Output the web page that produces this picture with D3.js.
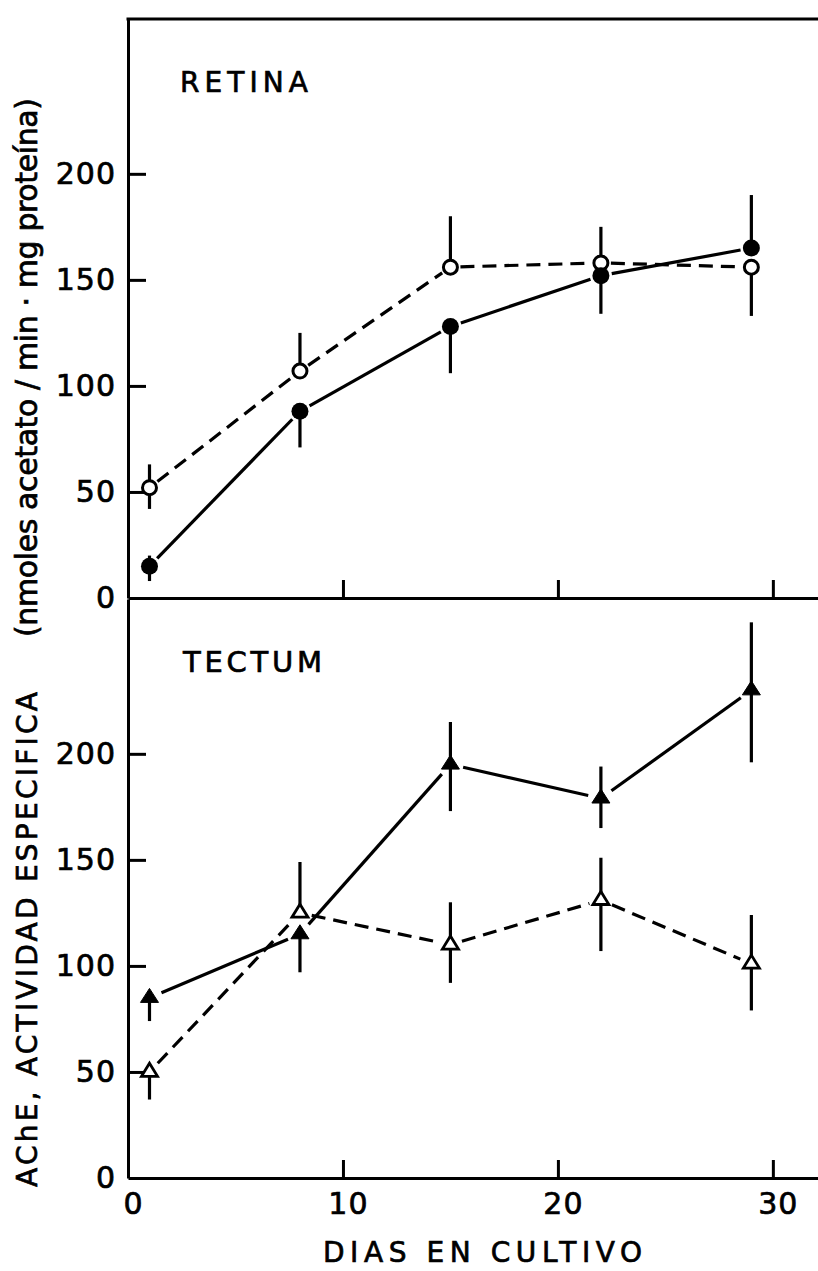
<!DOCTYPE html>
<html><head><meta charset="utf-8">
<script src="https://cdn.jsdelivr.net/npm/d3@7"></script>
<style>body{margin:0;background:#fff} svg{display:block} text{stroke:#000;stroke-width:0.7px;fill:#000}</style>
</head><body><svg id="c" width="818" height="1271"></svg>
<script>
// ---- data ----
const days = [1, 8, 15, 22, 29];
const xTickValues = [0, 10, 20, 30];
const yTickValues = [0, 50, 100, 150, 200];

const retinaFilled = [15, 88, 128, 152, 165];
const retinaFilledErrUp = [5, 0, 0, 0, 25];
const retinaFilledErrDown = [7, 17, 22, 18, 0];
const retinaOpen = [52, 107, 156, 158, 156];
const retinaOpenErrUp = [11, 18, 24, 17, 0];
const retinaOpenErrDown = [10, 0, 0, 0, 23];

const tectumFilled = [85, 115, 195, 179, 230];
const tectumFilledErrUp = [0, 0, 20, 15, 32];
const tectumFilledErrDown = [11, 18, 22, 14, 34];
const tectumOpen = [50, 125, 110, 131, 101];
const tectumOpenErrUp = [0, 24, 20, 20, 23];
const tectumOpenErrDown = [13, 0, 18, 24, 22];

const panelTitles = ["RETINA", "TECTUM"];
const xTitle = "DIAS EN CULTIVO";
const yTitleCaps = "AChE, ACTIVIDAD ESPECIFICA";
const yTitleUnits = "(nmoles acetato / min · mg proteína)";

// ---- drawing ----
const svg = d3.select('#c');
const FONT = "'DejaVu Sans', 'Liberation Sans', sans-serif";
const x = d3.scaleLinear().domain([0, 32.1]).range([128, 818]);
const yTop = d3.scaleLinear().domain([0, 273]).range([598, 19]);
const yBot = d3.scaleLinear().domain([0, 273]).range([1178, 599]);

function styleAxis(g) {
  g.selectAll('.domain').attr('stroke', '#000').attr('stroke-width', 3);
  g.selectAll('.tick line').attr('stroke', '#000').attr('stroke-width', 3);
  g.selectAll('.tick text').attr('fill', '#000').style('font-family', FONT)
    .style('font-size', '30px').style('letter-spacing', '1px');
}

// top border
svg.append('line').attr('x1', x.range()[0] - 1.5).attr('x2', x.range()[1])
  .attr('y1', yTop.range()[1]).attr('y2', yTop.range()[1])
  .attr('stroke', '#000').attr('stroke-width', 3);

[yTop, yBot].forEach(y => {
  svg.append('g').attr('transform', `translate(${x.range()[0]},0)`)
    .call(d3.axisLeft(y).tickValues(yTickValues).tickSize(-18).tickSizeOuter(0).tickPadding(12))
    .call(styleAxis)
    .call(g => g.selectAll('.tick').filter(d => d === 0).select('line').remove());
});

// x axes
svg.append('g').attr('transform', `translate(0,${yTop.range()[0]})`)
  .call(d3.axisBottom(x).tickValues(xTickValues.slice(1)).tickSize(-18).tickSizeOuter(0).tickFormat(''))
  .call(styleAxis);
svg.append('g').attr('transform', `translate(0,${yBot.range()[0]})`)
  .call(d3.axisBottom(x).tickValues(xTickValues).tickSize(-18).tickSizeOuter(0).tickPadding(15))
  .call(styleAxis)
  .call(g => g.selectAll('.tick text').attr('dx', 5))
  .call(g => g.selectAll('.tick').filter(d => d === 0).select('line').remove());

// panel titles
svg.append('text').attr('x', 180).attr('y', 92).text(panelTitles[0])
  .attr('textLength', 128).attr('lengthAdjust', 'spacing')
  .style('font-family', FONT).style('font-size', '28px');
svg.append('text').attr('x', 183).attr('y', 672).text(panelTitles[1])
  .attr('textLength', 139).attr('lengthAdjust', 'spacing')
  .style('font-family', FONT).style('font-size', '29px');

// x title
svg.append('text').attr('x', 323).attr('y', 1262).text(xTitle)
  .attr('textLength', 319).attr('lengthAdjust', 'spacing')
  .style('font-family', FONT).style('font-size', '28px');

// y title (rotated)
svg.append('text').attr('transform', 'translate(37,1187) rotate(-90)').text(yTitleCaps)
  .attr('textLength', 495).attr('lengthAdjust', 'spacing')
  .style('font-family', FONT).style('font-size', '28px');
svg.append('text').attr('transform', 'translate(37,637) rotate(-90)').text(yTitleUnits)
  .attr('textLength', 539).attr('lengthAdjust', 'spacing')
  .style('font-family', FONT).style('font-size', '30px');

// series
function drawSeries(y, vals, up, down, opts) {
  const pts = days.map((d, i) => ({ px: x(d), py: y(vals[i]), i }));
  const gap = opts.gap;
  const segs = d3.pairs(pts).map(([a, b]) => {
    const dx = b.px - a.px, dy = b.py - a.py, L = Math.hypot(dx, dy);
    const ux = dx / L, uy = dy / L;
    return { x1: a.px + ux * gap, y1: a.py + uy * gap, x2: b.px - ux * gap, y2: b.py - uy * gap };
  });
  const g = svg.append('g');
  g.selectAll('line.seg').data(segs).join('line').attr('class', 'seg')
    .attr('x1', d => d.x1).attr('y1', d => d.y1).attr('x2', d => d.x2).attr('y2', d => d.y2)
    .attr('stroke', '#000').attr('stroke-width', 3.2)
    .attr('stroke-dasharray', opts.dashed ? '14,8' : null);
  // error bars
  g.selectAll('line.err').data(pts).join('line').attr('class', 'err')
    .attr('x1', d => d.px).attr('x2', d => d.px)
    .attr('y1', d => y(vals[d.i] + up[d.i])).attr('y2', d => y(vals[d.i] - down[d.i]))
    .attr('stroke', '#000').attr('stroke-width', 3.2);
  // markers
  const m = g.selectAll('g.mk').data(pts).join('g').attr('class', 'mk')
    .attr('transform', d => `translate(${d.px},${d.py})`);
  if (opts.shape === 'circle') {
    m.append('circle').attr('r', opts.filled ? 8.5 : 7)
      .attr('fill', opts.filled ? '#000' : '#fff')
      .attr('stroke', '#000').attr('stroke-width', opts.filled ? 0 : 3);
  } else {
    const w = opts.filled ? 18 : 16, h = opts.filled ? 14 : 13;
    const tri = d3.line()([[0, -h * 2 / 3], [w / 2, h / 3], [-w / 2, h / 3]]) + 'Z';
    m.append('path').attr('d', tri)
      .attr('fill', opts.filled ? '#000' : '#fff')
      .attr('stroke', '#000').attr('stroke-width', opts.filled ? 1 : 2.8)
      .attr('stroke-linejoin', 'miter');
  }
}

drawSeries(yTop, retinaOpen, retinaOpenErrUp, retinaOpenErrDown, { shape: 'circle', filled: false, dashed: true, gap: 10 });
drawSeries(yTop, retinaFilled, retinaFilledErrUp, retinaFilledErrDown, { shape: 'circle', filled: true, dashed: false, gap: 11 });
drawSeries(yBot, tectumOpen, tectumOpenErrUp, tectumOpenErrDown, { shape: 'triangle', filled: false, dashed: true, gap: 12 });
drawSeries(yBot, tectumFilled, tectumFilledErrUp, tectumFilledErrDown, { shape: 'triangle', filled: true, dashed: false, gap: 13 });
</script>
</body></html>
